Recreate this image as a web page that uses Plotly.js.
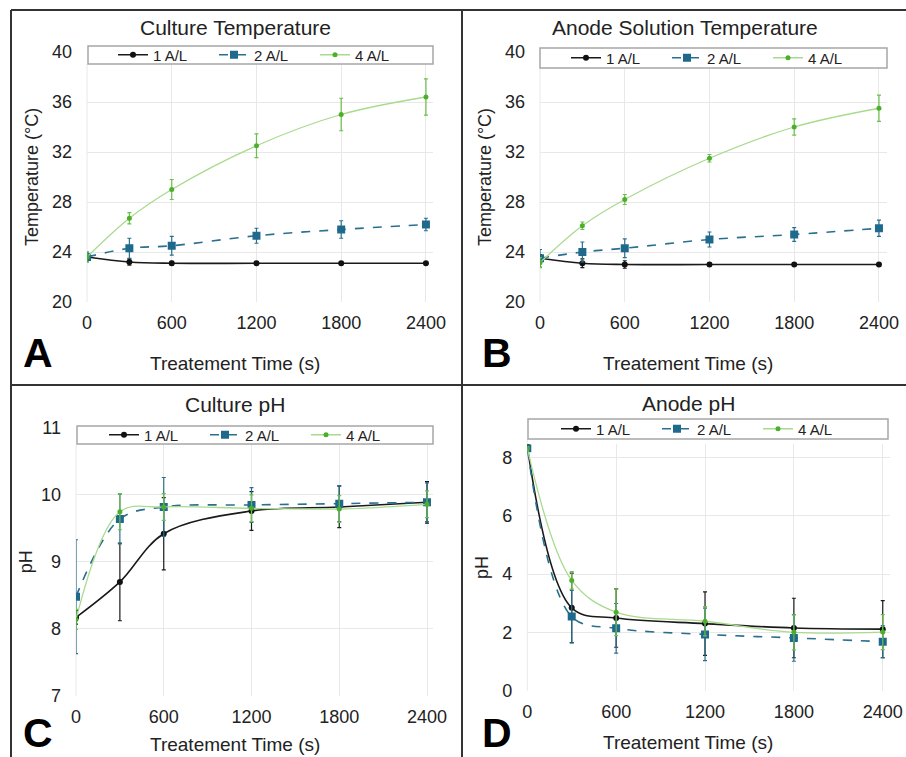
<!DOCTYPE html>
<html>
<head>
<meta charset="utf-8">
<script src="https://cdn.plot.ly/plotly-3.0.1.min.js"></script>
<style>html,body{margin:0;padding:0;background:#fff;}#chart{width:906px;height:757px;}</style>
</head>
<body>
<div id="chart"></div>
<script>
// ---------- DATA ----------
const timeS = [0, 300, 600, 1200, 1800, 2400];
const seriesNames = ['1 A/L', '2 A/L', '4 A/L'];
const xTickVals = [0, 600, 1200, 1800, 2400];

const cultureTemp1 = [23.6, 23.2, 23.1, 23.1, 23.1, 23.1];
const cultureTemp1Err = [0.2, 0.25, 0.15, 0.1, 0.1, 0.1];
const cultureTemp2 = [23.6, 24.3, 24.5, 25.3, 25.8, 26.2];
const cultureTemp2Err = [0.4, 0.8, 0.75, 0.6, 0.7, 0.5];
const cultureTemp4 = [23.6, 26.7, 29.0, 32.5, 35.0, 36.4];
const cultureTemp4Err = [0.4, 0.45, 0.8, 0.95, 1.3, 1.45];

const anodeTemp1 = [23.5, 23.1, 23.0, 23.0, 23.0, 23.0];
const anodeTemp1Err = [0.3, 0.35, 0.3, 0.1, 0.1, 0.1];
const anodeTemp2 = [23.5, 24.0, 24.3, 25.0, 25.4, 25.9];
const anodeTemp2Err = [0.7, 0.8, 0.75, 0.6, 0.55, 0.65];
const anodeTemp4 = [23.15, 26.1, 28.2, 31.5, 34.0, 35.5];
const anodeTemp4Err = [0.4, 0.3, 0.4, 0.3, 0.65, 1.05];

const culturePH1 = [8.17, 8.70, 9.42, 9.76, 9.82, 9.89];
const culturePH1Err = [0.1, 0.58, 0.54, 0.29, 0.31, 0.31];
const culturePH2 = [8.48, 9.64, 9.82, 9.85, 9.87, 9.89];
const culturePH2Err = [0.85, 0.37, 0.44, 0.26, 0.27, 0.29];
const culturePH4 = [8.14, 9.75, 9.82, 9.80, 9.79, 9.86];
const culturePH4Err = [0.15, 0.27, 0.2, 0.2, 0.2, 0.2];

const anodePH1 = [8.37, 2.84, 2.49, 2.30, 2.15, 2.11];
const anodePH1Err = [0.05, 1.19, 1.0, 1.09, 1.02, 0.98];
const anodePH2 = [8.31, 2.54, 2.14, 1.93, 1.81, 1.68];
const anodePH2Err = [0.05, 0.9, 0.85, 0.9, 0.8, 0.55];
const anodePH4 = [8.31, 3.78, 2.69, 2.38, 2.0, 2.01];
const anodePH4Err = [0.05, 0.3, 0.8, 0.5, 0.6, 0.6];

const panelTitles = ['Culture Temperature', 'Anode Solution Temperature', 'Culture pH', 'Anode pH'];
const panelLetters = ['A', 'B', 'C', 'D'];
const yTitles = ['Temperature (°C)', 'Temperature (°C)', 'pH', 'pH'];
const xTitle = 'Treatement Time (s)';

// ---------- STYLE / LAYOUT ----------
const W = 906, H = 757;
const px = v => v / W;
const py = v => 1 - v / H;
const FONT = 'Arial, "Liberation Sans", sans-serif';

const styles = [
  {line: {color: '#1a1a1a', width: 1.6, dash: 'solid'}, marker: {color: '#111', size: 6, symbol: 'circle'}, err: '#1a1a1a'},
  {line: {color: '#2a6f8f', width: 1.6, dash: 'dash'}, marker: {color: '#1f6a8c', size: 8, symbol: 'square'}, err: '#2a6f8f'},
  {line: {color: '#a9da8e', width: 1.3, dash: 'solid'}, marker: {color: '#4caf2c', size: 5, symbol: 'circle'}, err: '#6bbf4a'}
];

const panels = [
  {data: [cultureTemp1, cultureTemp2, cultureTemp4], err: [cultureTemp1Err, cultureTemp2Err, cultureTemp4Err],
   plot: [87, 433, 52, 302], xr: [0, 2450], yr: [20, 40], dy: 4, ys: 8,
   box: [88, 433, 46, 64], legX: 113, title: [235, 27], letter: [38, 353], xt: [235, 363]},
  {data: [anodeTemp1, anodeTemp2, anodeTemp4], err: [anodeTemp1Err, anodeTemp2Err, anodeTemp4Err],
   plot: [540, 887, 52, 302], xr: [0, 2457], yr: [20, 40], dy: 4, ys: 8,
   box: [540, 887, 48, 68], legX: 566, title: [685, 27], letter: [497, 353], xt: [688, 363]},
  {data: [culturePH1, culturePH2, culturePH4], err: [culturePH1Err, culturePH2Err, culturePH4Err],
   plot: [76, 433, 428, 695.7], xr: [0, 2441], yr: [7, 11], dy: 1, ys: 3,
   box: [77, 433, 426, 444], legX: 104, title: [235, 404], letter: [38, 733], xt: [235, 744]},
  {data: [anodePH1, anodePH2, anodePH4], err: [anodePH1Err, anodePH2Err, anodePH4Err],
   plot: [527.3, 890, 444.2, 690.7], xr: [0, 2449], yr: [0, 8.45], dy: 2, ys: 8,
   box: [528, 888, 419, 439], legX: 556, title: [688, 403], letter: [497, 733], xt: [688, 742]}
];

const traces = [];
const layout = {
  width: W, height: H,
  margin: {l: 0, r: 0, t: 0, b: 0},
  paper_bgcolor: '#fff', plot_bgcolor: '#fff',
  font: {family: FONT, color: '#222'},
  showlegend: true,
  shapes: [], annotations: []
};

panels.forEach((p, i) => {
  const n = i === 0 ? '' : String(i + 1);
  const legName = 'legend' + n;
  seriesNames.forEach((name, s) => {
    const st = styles[s];
    traces.push({
      type: 'scatter', mode: 'lines+markers', name: name,
      x: timeS, y: p.data[s],
      xaxis: 'x' + n, yaxis: 'y' + n, legend: legName,
      line: Object.assign({shape: 'spline', smoothing: 1}, st.line),
      marker: st.marker,
      error_y: {type: 'data', array: p.err[s], visible: true, color: st.err, thickness: 1.2, width: 2}
    });
  });
  layout['xaxis' + n] = {
    domain: [px(p.plot[0]), px(p.plot[1])], anchor: 'y' + n,
    range: p.xr, tickvals: xTickVals, ticktext: xTickVals.map(String),
    showgrid: true, gridcolor: '#e8e8e8', gridwidth: 1, zeroline: false, showline: false,
    ticks: '', ticklabelstandoff: 8, tickfont: {size: 18, color: '#222'},
    automargin: false, fixedrange: true
  };
  layout['yaxis' + n] = {
    domain: [py(p.plot[3]), py(p.plot[2])], anchor: 'x' + n,
    range: p.yr, dtick: p.dy, tick0: 0,
    showgrid: true, gridcolor: '#e8e8e8', gridwidth: 1, zeroline: false, showline: false,
    ticks: '', ticklabelstandoff: 14, tickfont: {size: 18, color: '#222'},
    title: {text: yTitles[i], font: {size: 18, color: '#222'}, standoff: p.ys},
    automargin: false, fixedrange: true
  };
  // vertical gridline at x=0 edge
  layout.shapes.push({type: 'line', xref: 'paper', yref: 'paper', layer: 'below',
    x0: px(p.plot[0]), x1: px(p.plot[0]), y0: py(p.plot[3]), y1: py(p.box[3]),
    line: {color: '#e8e8e8', width: 1}});
  // legend box
  layout.shapes.push({type: 'rect', xref: 'paper', yref: 'paper', layer: 'above',
    x0: px(p.box[0]), x1: px(p.box[1]), y0: py(p.box[3]), y1: py(p.box[2]),
    fillcolor: '#fff', line: {color: '#a6a6a6', width: 1.5}});
  layout[legName] = {
    orientation: 'h', x: px(p.legX), xanchor: 'left', y: py((p.box[2] + p.box[3]) / 2), yanchor: 'middle',
    bgcolor: 'rgba(0,0,0,0)', borderwidth: 0, font: {size: 15, color: '#222'},
    entrywidth: 56, entrywidthmode: 'pixels', traceorder: 'normal', itemclick: false
  };
  layout.annotations.push({xref: 'paper', yref: 'paper', x: px(p.title[0]), y: py(p.title[1]),
    xanchor: 'center', yanchor: 'middle', showarrow: false, text: panelTitles[i],
    font: {size: 21, color: '#222'}});
  layout.annotations.push({xref: 'paper', yref: 'paper', x: px(p.xt[0]), y: py(p.xt[1]),
    xanchor: 'center', yanchor: 'middle', showarrow: false, text: xTitle,
    font: {size: 19, color: '#222'}});
  layout.annotations.push({xref: 'paper', yref: 'paper', x: px(p.letter[0]), y: py(p.letter[1]),
    xanchor: 'center', yanchor: 'middle', showarrow: false, text: '<b>' + panelLetters[i] + '</b>',
    font: {size: 41, color: '#000'}});
});

// frame lines
const frame = '#333';
layout.shapes.push({type: 'line', xref: 'paper', yref: 'paper', x0: px(11), x1: px(906), y0: py(10), y1: py(10), line: {color: frame, width: 2}});
layout.shapes.push({type: 'line', xref: 'paper', yref: 'paper', x0: px(11), x1: px(11), y0: py(10), y1: py(757), line: {color: frame, width: 2}});
layout.shapes.push({type: 'line', xref: 'paper', yref: 'paper', x0: px(462), x1: px(462), y0: py(10), y1: py(757), line: {color: frame, width: 2}});
layout.shapes.push({type: 'line', xref: 'paper', yref: 'paper', x0: px(11), x1: px(906), y0: py(385), y1: py(385), line: {color: frame, width: 2}});

Plotly.newPlot('chart', traces, layout, {staticPlot: true});
</script>
</body>
</html>
